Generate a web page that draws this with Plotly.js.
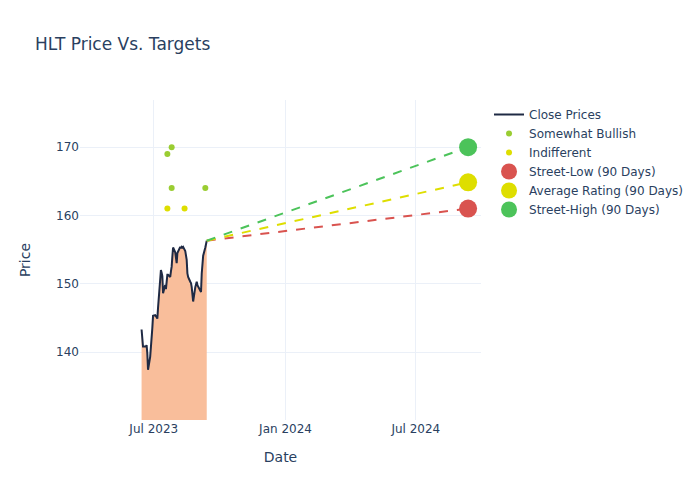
<!DOCTYPE html>
<html>
<head>
<meta charset="utf-8">
<script src="https://cdn.plot.ly/plotly-3.0.1.min.js"></script>
<style>body{margin:0;} #chart{width:700px;height:500px;}</style>
</head>
<body>
<div id="chart"></div>
<script>
const closeDates = [
  '2023-06-14','2023-06-15','2023-06-16','2023-06-20','2023-06-21','2023-06-22','2023-06-23',
  '2023-06-26','2023-06-27','2023-06-28','2023-06-29','2023-06-30',
  '2023-07-03','2023-07-05','2023-07-06','2023-07-07',
  '2023-07-10','2023-07-11','2023-07-12','2023-07-13','2023-07-14',
  '2023-07-17','2023-07-18','2023-07-19','2023-07-20','2023-07-21',
  '2023-07-24','2023-07-25','2023-07-26','2023-07-27','2023-07-28',
  '2023-07-31','2023-08-01','2023-08-02','2023-08-03','2023-08-04',
  '2023-08-07','2023-08-08','2023-08-09','2023-08-10','2023-08-11',
  '2023-08-14','2023-08-15','2023-08-16','2023-08-17','2023-08-18',
  '2023-08-21','2023-08-22','2023-08-23','2023-08-24','2023-08-25',
  '2023-08-28','2023-08-29','2023-08-30','2023-08-31','2023-09-01',
  '2023-09-05','2023-09-06','2023-09-07','2023-09-08',
  '2023-09-11','2023-09-12','2023-09-13'
];
const closePrices = [
  143.3,141.2,140.8,140.8,141.0,139.8,137.4,
  139.3,140.5,141.6,143.5,145.3,
  145.4,145.1,144.9,146.5,
  151.9,152.0,151.6,151.1,148.6,
  149.8,149.2,150.3,151.3,151.3,
  151.0,151.8,152.5,154.0,155.3,
  154.6,153.5,153.0,154.5,154.7,
  155.4,155.2,155.4,155.3,155.4,
  154.8,154.0,153.5,151.5,151.0,
  150.3,150.1,149.5,148.3,147.4,
  149.5,150.0,150.3,149.8,149.6,
  148.8,151.5,153.8,154.1,
  155.3,155.9,156.3
];

const bullishDates = ['2023-07-20','2023-07-26','2023-07-26','2023-09-11'];
const bullishTargets = [169, 170, 164, 164];
const indifferentDates = ['2023-07-20','2023-08-13'];
const indifferentTargets = [161, 161];

const targetDate = '2024-09-12';
const targetNames = ['Street-Low (90 Days)','Average Rating (90 Days)','Street-High (90 Days)'];
const targetValues = [161.0, 164.85, 170.0];
const targetColors = ['#d9534f','#dede00','#4cc35a'];

const lastDate = closeDates[closeDates.length-1];
const lastPrice = closePrices[closePrices.length-1];

const traces = [];
traces.push({
  x: closeDates, y: closePrices, type:'scatter', mode:'lines',
  fill:'tozeroy', fillcolor:'rgba(249,190,155,1)', line:{width:0, color:'rgba(0,0,0,0)'},
  showlegend:false, hoverinfo:'skip'
});
traces.push({
  x: closeDates, y: closePrices, type:'scatter', mode:'lines',
  name:'Close Prices', line:{color:'#1f2a44', width:2}
});
traces.push({
  x: bullishDates, y: bullishTargets, type:'scatter', mode:'markers',
  name:'Somewhat Bullish', marker:{color:'#9acd32', size:6}
});
traces.push({
  x: indifferentDates, y: indifferentTargets, type:'scatter', mode:'markers',
  name:'Indifferent', marker:{color:'#dede00', size:6}
});
for (let i=0;i<targetNames.length;i++){
  traces.push({
    x:[lastDate, targetDate], y:[lastPrice, targetValues[i]], type:'scatter', mode:'lines',
    line:{color:targetColors[i], dash:'dash', width:2}, showlegend:false, hoverinfo:'skip'
  });
}
for (let i=0;i<targetNames.length;i++){
  traces.push({
    x:[targetDate], y:[targetValues[i]], type:'scatter', mode:'markers',
    name:targetNames[i], marker:{color:targetColors[i], size:18}
  });
}

const axisStyle = {gridcolor:'#EBF0F8', zeroline:false, showline:false, ticks:'',
                   tickfont:{size:12}};
const layout = {
  width:700, height:500,
  font:{family:'DejaVu Sans, Verdana, sans-serif', color:'#2a3f5f', size:12},
  title:{text:'HLT Price Vs. Targets', x:0.05, xanchor:'left', font:{size:17}},
  xaxis:Object.assign({}, axisStyle, {title:{text:'Date', font:{size:14}, standoff:17}, range:['2023-03-20','2024-09-30'], type:'date',
         tickvals:['2023-07-01','2024-01-01','2024-07-01'], ticktext:['Jul 2023','Jan 2024','Jul 2024']}),
  yaxis:Object.assign({}, axisStyle, {title:{text:'Price', font:{size:14}, standoff:22}, range:[130.05,176.9], tickvals:[140,150,160,170]}),
  plot_bgcolor:'white', paper_bgcolor:'white',
  legend:{font:{size:12}},
  hovermode:'closest'
};
Plotly.newPlot('chart', traces, layout, {displayModeBar:false});
</script>
</body>
</html>
